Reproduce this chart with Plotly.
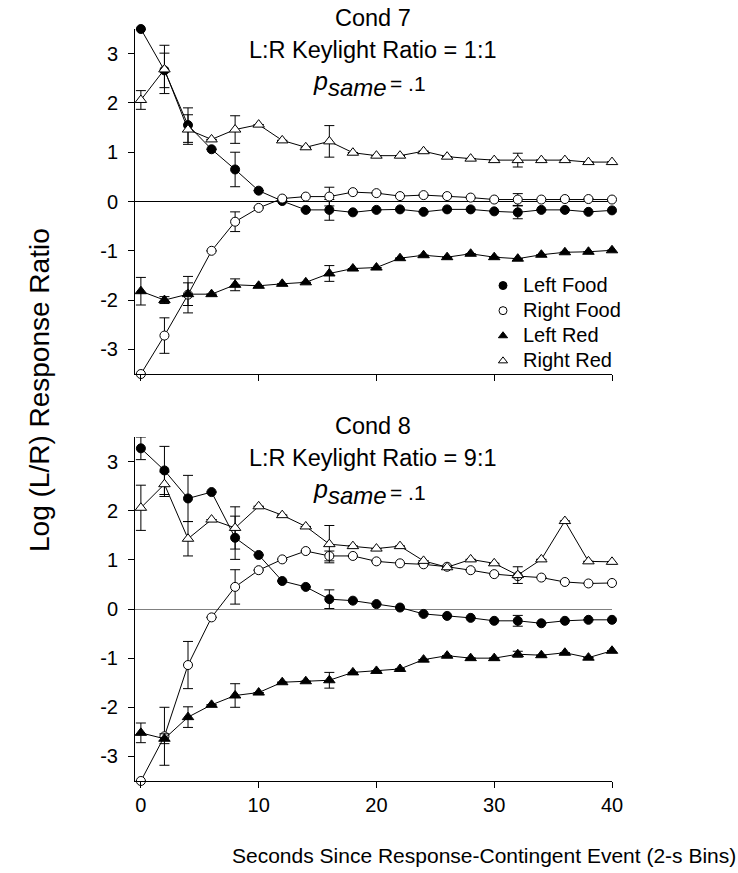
import plotly.graph_objects as go

x = [0, 2, 4, 6, 8, 10, 12, 14, 16, 18, 20, 22, 24, 26, 28, 30, 32, 34, 36, 38, 40]

# Cond 7 (top panel)
c7_left_food = [3.50, 2.66, 1.55, 1.06, 0.65, 0.22, 0.01, -0.17, -0.17, -0.22, -0.17, -0.16,
                -0.21, -0.16, -0.16, -0.20, -0.22, -0.17, -0.17, -0.21, -0.18]
c7_left_food_err = [None, 0.35, 0.35, None, 0.35, None, None, None, 0.21, None, None, None,
                    None, None, None, None, 0.13, None, None, None, None]
c7_right_food = [-3.50, -2.72, -1.89, -1.00, -0.41, -0.13, 0.06, 0.10, 0.10, 0.19, 0.17, 0.11,
                 0.13, 0.11, 0.08, 0.04, 0.04, 0.04, 0.05, 0.05, 0.04]
c7_right_food_err = [None, 0.36, 0.37, None, 0.20, None, None, None, 0.19, None, None, None,
                     None, None, None, None, 0.12, None, None, None, None]
c7_left_red = [-1.82, -2.00, -1.88, -1.88, -1.69, -1.71, -1.67, -1.64, -1.46, -1.36, -1.34, -1.15,
               -1.09, -1.13, -1.06, -1.13, -1.16, -1.08, -1.03, -1.02, -0.99]
c7_left_red_err = [0.28, 0.07, 0.23, None, 0.12, None, None, None, 0.16, None, None, None,
                   None, None, None, None, None, None, None, None, None]
c7_right_red = [2.06, 2.68, 1.46, 1.26, 1.46, 1.56, 1.24, 1.10, 1.22, 0.99, 0.93, 0.93,
                1.02, 0.91, 0.87, 0.84, 0.84, 0.84, 0.84, 0.80, 0.80]
c7_right_red_err = [0.19, 0.49, 0.30, None, 0.28, None, None, None, 0.32, None, None, None,
                    None, None, None, None, 0.14, None, None, None, None]

# Cond 8 (bottom panel)
c8_left_food = [3.27, 2.82, 2.25, 2.38, 1.45, 1.10, 0.57, 0.45, 0.20, 0.17, 0.10, 0.03,
                -0.10, -0.14, -0.18, -0.24, -0.24, -0.29, -0.24, -0.22, -0.22]
c8_left_food_err = [0.23, 0.49, 0.47, None, 0.44, None, None, None, 0.19, None, None, None,
                    None, None, None, None, 0.11, None, None, None, None]
c8_right_food = [-3.50, -2.59, -1.14, -0.17, 0.45, 0.79, 1.01, 1.18, 1.08, 1.08, 0.97, 0.93,
                 0.91, 0.86, 0.79, 0.71, 0.67, 0.64, 0.55, 0.52, 0.53]
c8_right_food_err = [None, 0.59, 0.48, None, 0.35, None, None, None, 0.10, None, None, None,
                     None, None, None, None, None, None, None, None, None]
c8_left_red = [-2.52, -2.64, -2.20, -1.95, -1.76, -1.70, -1.49, -1.47, -1.45, -1.29, -1.26, -1.22,
               -1.03, -0.95, -1.00, -1.00, -0.92, -0.94, -0.89, -0.99, -0.85]
c8_left_red_err = [0.20, 0.10, 0.21, None, 0.24, None, None, None, 0.16, None, None, None,
                   None, None, None, None, 0.06, None, None, None, None]
c8_right_red = [2.06, 2.54, 1.43, 1.82, 1.65, 2.09, 1.91, 1.68, 1.32, 1.28, 1.23, 1.28,
                0.98, 0.85, 1.01, 0.93, 0.69, 1.01, 1.79, 0.97, 0.96]
c8_right_red_err = [0.46, 0.25, 0.35, None, 0.43, None, None, None, 0.38, None, None, None,
                    None, None, None, None, 0.17, None, None, None, None]

series_names = ["Left Food", "Right Food", "Left Red", "Right Red"]
series_symbols = ["circle", "circle", "triangle-up", "triangle-up"]
series_fill = ["black", "white", "black", "white"]
series_sizes = [9, 9, 10, 10]

yticks = [-3, -2, -1, 0, 1, 2, 3]
ytick_labels = ["-3", "-2", "-1", "0", "1", "2", "3"]
xticks = [0, 10, 20, 30, 40]
xtick_labels = ["0", "10", "20", "30", "40"]

FONT = "Liberation Sans, Arial, sans-serif"

fig = go.Figure()

panels = [
    ("x", "y", [c7_left_food, c7_right_food, c7_left_red, c7_right_red],
     [c7_left_food_err, c7_right_food_err, c7_left_red_err, c7_right_red_err]),
    ("x2", "y2", [c8_left_food, c8_right_food, c8_left_red, c8_right_red],
     [c8_left_food_err, c8_right_food_err, c8_left_red_err, c8_right_red_err]),
]

for xa, ya, vals, errs in panels:
    for i in range(4):
        fig.add_trace(go.Scatter(
            x=x, y=vals[i], xaxis=xa, yaxis=ya, mode="lines+markers",
            showlegend=False, cliponaxis=False,
            line=dict(color="black", width=1),
            marker=dict(symbol=series_symbols[i], size=series_sizes[i], color=series_fill[i],
                        line=dict(color="black", width=1)),
            error_y=dict(type="data", array=errs[i], visible=True, color="black",
                         thickness=1, width=5),
        ))

for i in range(4):
    fig.add_trace(go.Scatter(
        x=[None], y=[None], mode="markers",
        name="<span style='font-size:20px'>" + series_names[i] + "</span>",
        marker=dict(symbol=series_symbols[i], size=8, color=series_fill[i],
                    line=dict(color="black", width=1)),
    ))

axis_common = dict(range=[-0.5, 40], tickvals=xticks, ticktext=xtick_labels, showline=True,
                   linecolor="black", linewidth=1, ticks="outside", ticklen=6, tickcolor="black",
                   showgrid=False, zeroline=False, tickfont=dict(size=20, color="black"))
yaxis_common = dict(range=[-3.5, 3.5], tickvals=yticks, ticktext=ytick_labels, showline=True,
                    linecolor="black", linewidth=1, ticks="outside", ticklen=6, tickcolor="black",
                    showgrid=False, zeroline=True, zerolinewidth=1, ticklabelstandoff=6,
                    tickfont=dict(size=20, color="black"))

fig.update_layout(
    width=738, height=873,
    margin=dict(l=135, r=126, t=29, b=92),
    paper_bgcolor="white", plot_bgcolor="white",
    font=dict(family=FONT, color="black"),
    xaxis=dict(axis_common, domain=[0, 1], anchor="y", showticklabels=False),
    yaxis=dict(yaxis_common, domain=[0.5412, 1], anchor="x", zerolinecolor="black"),
    xaxis2=dict(axis_common, domain=[0, 1], anchor="y2"),
    yaxis2=dict(yaxis_common, domain=[0, 0.4574], anchor="x2", zerolinecolor="#808080"),
    legend=dict(x=(483 - 135) / 477, y=(781 - 268) / 752, xanchor="left", yanchor="top",
                font=dict(size=17), bgcolor="rgba(0,0,0,0)", itemwidth=30,
                tracegroupgap=0),
)

def py(p):
    return (781 - p) / 752

def px(p):
    return (p - 135) / 477

for top, cond, ratio in [(0, "Cond 7", "1:1"), (408, "Cond 8", "9:1")]:
    fig.add_annotation(x=px(373), y=py(18 + top), xref="paper", yref="paper",
                       text=cond, showarrow=False, xanchor="center", yanchor="middle",
                       font=dict(size=23.5, family=FONT, color="black"))
    fig.add_annotation(x=px(373), y=py(50 + top), xref="paper", yref="paper",
                       text="L:R Keylight Ratio = " + ratio, showarrow=False,
                       xanchor="center", yanchor="middle",
                       font=dict(size=23.5, family=FONT, color="black"))
    fig.add_annotation(x=px(320), y=py(81 + top), xref="paper", yref="paper",
                       text="<i>p</i>", showarrow=False, xanchor="center", yanchor="middle",
                       font=dict(size=25, family=FONT, color="black"))
    fig.add_annotation(x=px(326), y=py(87 + top), xref="paper", yref="paper",
                       text="<i>same</i>", showarrow=False, xanchor="left", yanchor="middle",
                       font=dict(size=24, family=FONT, color="black"))
    fig.add_annotation(x=px(388), y=py(84 + top), xref="paper", yref="paper",
                       text="= .1", showarrow=False, xanchor="left", yanchor="middle",
                       font=dict(size=21, family=FONT, color="black"))

fig.add_annotation(x=px(484), y=py(855), xref="paper", yref="paper",
                   text="Seconds Since Response-Contingent Event (2-s Bins)", showarrow=False,
                   xanchor="center", yanchor="middle",
                   font=dict(size=21, family=FONT, color="black"))
fig.add_annotation(x=px(40), y=py(390), xref="paper", yref="paper",
                   text="Log (L/R) Response Ratio", showarrow=False, textangle=-90,
                   xanchor="center", yanchor="middle",
                   font=dict(size=28, family=FONT, color="black"))

fig.write_html("out.html")
